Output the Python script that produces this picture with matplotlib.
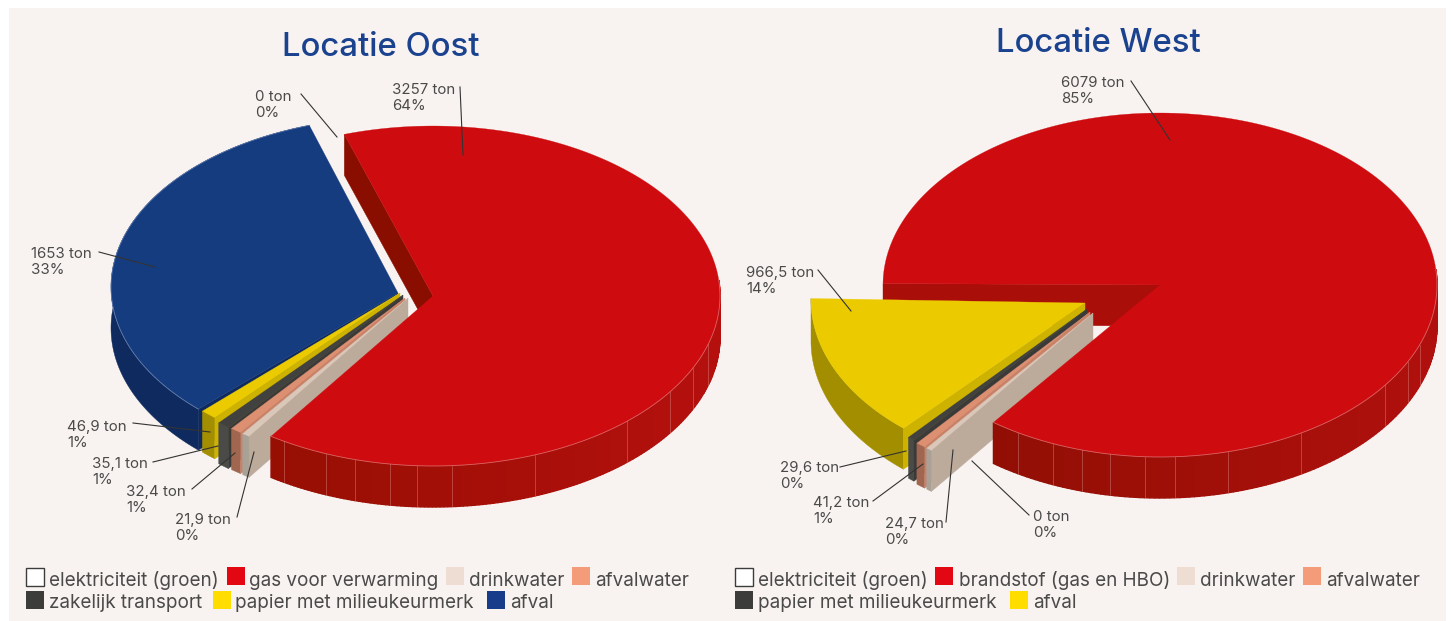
"""
Two exploded 3D-look pie charts of CO2 per location.
Outputs out.png.
"""

import numpy as np
import matplotlib
matplotlib.use("Agg")
import matplotlib.pyplot as plt
from matplotlib.colors import to_rgb
from matplotlib.patches import Rectangle

plt.rcParams["font.family"] = ["Inter", "DejaVu Sans"]

# clockwise order, starting at the big red slice
OOST_VALUES = [3257, 21.9, 32.4, 35.1, 46.9, 1653]
WEST_VALUES = [6079, 24.7, 41.2, 29.6, 966.5]

OOST_LABELS = ["3257 ton\n64%", "21,9 ton\n0%", "32,4 ton\n1%", "35,1 ton\n1%",
               "46,9 ton\n1%", "1653 ton\n33%", "0 ton\n0%"]
WEST_LABELS = ["6079 ton\n85%", "24,7 ton\n0%", "41,2 ton\n1%", "29,6 ton\n0%",
               "966,5 ton\n14%", "0 ton\n0%"]

OOST_LEGEND = ["elektriciteit (groen)", "gas voor verwarming", "drinkwater", "afvalwater",
               "zakelijk transport", "papier met milieukeurmerk", "afval"]
WEST_LEGEND = ["elektriciteit (groen)", "brandstof (gas en HBO)", "drinkwater", "afvalwater",
               "papier met milieukeurmerk", "afval"]

OOST_LEGEND_COLORS = ["#FFFFFF", "#E30613", "#EDDDD3", "#F49B7A", "#3C3C3B", "#FFDD00", "#163C8A"]
WEST_LEGEND_COLORS = ["#FFFFFF", "#E30613", "#EDDDD3", "#F49B7A", "#3C3C3B", "#FFDD00"]

BG = "#F8F3F0"
TEXT = "#4A4A49"
TITLE = "#1A428F"
DEPTH = 41

# face colours: top, outer wall, wall on the start edge
RED = ("#CE0C10", None, "#8A0E00")
BEIGE = ("#D9C7B9", "#A9A196", "#BCAA9B")
SALMON = ("#DC8F71", "#A0664F", "#C98268")
DARK = ("#414140", "#4A4A48", "#3A3A39")
YELLOW = ("#EBCB00", "#A38E00", "#CDB200")
BLUE = ("#163C80", "#0F2A5E", "#0F2A5E")


def arc(cx, cy, a, b, t0, t1, n=80):
    t = np.radians(np.linspace(t0, t1, n))
    return cx + a * np.sin(t), cy - b * np.cos(t)


def draw_slice(ax, apex, center, a, b, t0, t1, colors, rim=None):
    px, py = apex
    x, y = arc(center[0], center[1], a, b, t0, t1, max(int(t1 - t0) * 2, 6))
    ax.fill(np.r_[x, x[::-1]], np.r_[y, y[::-1] + DEPTH], color=colors[1], lw=0.3)
    ax.fill([px, x[0], x[0], px], [py, y[0], y[0] + DEPTH, py + DEPTH], color=colors[2], lw=0.3)
    ax.fill(np.r_[px, x], np.r_[py, y], color=colors[0], lw=0.2)
    if rim:
        ax.plot(x, y, color=rim, lw=0.6, alpha=0.7)


def draw_red(ax, apex, a, b, t0, t1, dark, light, facets):
    # faceted outer wall, shaded left to right
    cx, cy = apex
    x, y = arc(cx, cy, a, b, t0, t1, 300)
    c0, c1 = np.array(to_rgb(dark)), np.array(to_rgb(light))
    t = np.linspace(t0, t1, 300) % 360
    front = np.where((t > 84) & (t < 262))[0]
    for i in front[:-1]:
        f = (x[i] - (cx - a)) / (2 * a)
        col = c0 + (c1 - c0) * f
        ax.fill([x[i], x[i + 1], x[i + 1], x[i]],
                [y[i], y[i + 1], y[i + 1] + DEPTH, y[i] + DEPTH], color=col, lw=1.0)
    for fx in facets:
        i = front[np.argmin(np.abs(x[front] - fx))]
        ax.plot([x[i], x[i]], [y[i], y[i] + DEPTH], color="#E8A0A0", lw=0.5, alpha=0.5)
    ax.fill(np.r_[cx, x], np.r_[cy, y], color=RED[0], lw=0.2)
    ax.plot(x[front], y[front], color="#F0A0A0", lw=0.6, alpha=0.6)


def draw_pie(ax, values, start, apexes, centers, a, b, colors, facets, dark, light, side):
    angles = np.array(values) / np.sum(values) * 360
    edges = start + np.r_[0, np.cumsum(angles)]
    # red start-edge wall first, it lies behind everything else
    cx, cy = apexes[0]
    x0, y0 = arc(cx, cy, a, b, edges[0], edges[0], 1)
    ax.fill([cx, x0[0], x0[0], cx], [cy, y0[0], y0[0] + DEPTH, cy + DEPTH], color=side, lw=0.3)
    for i in range(len(values) - 1, 0, -1):
        draw_slice(ax, apexes[i], centers[i], a, b, edges[i], edges[i + 1], colors[i],
                   rim="#7F95C0" if colors[i] is BLUE else None)
    draw_red(ax, apexes[0], a, b, edges[0], edges[1], dark, light, facets)


def draw_labels(ax, labels, text_pos, leaders):
    for label, (tx, ty), (x0, y0, x1, y1) in zip(labels, text_pos, leaders):
        ax.text(tx, ty, label, fontsize=10.8, color=TEXT, ha="left", va="center", linespacing=1.18)
        ax.plot([x0, x1], [y0, y1], color="#333333", lw=0.8)


def draw_legend(ax, names, colors, boxes, texts):
    for name, col, (bx, by), (tx, ty) in zip(names, colors, boxes, texts):
        is_white = col == "#FFFFFF"
        ax.add_patch(Rectangle((bx, by), 18, 18, facecolor=col,
                               edgecolor="#3C3C3B" if is_white else col, lw=1.0 if is_white else 0))
        ax.text(tx, ty, name, fontsize=13.6, color=TEXT, ha="left", va="center")


fig = plt.figure(figsize=(14.51, 6.21), dpi=100, facecolor="white")
ax = fig.add_axes([0, 0, 1, 1])
ax.set_xlim(0, 1451)
ax.set_ylim(621, 0)
ax.axis("off")
ax.add_patch(Rectangle((9, 8), 1437, 613, facecolor=BG, edgecolor="none"))

ax.text(381, 47.5, "Locatie Oost", fontsize=23.7, color=TITLE, ha="center", va="center", weight="medium")
ax.text(1098, 44, "Locatie West", fontsize=23.7, color=TITLE, ha="center", va="center", weight="medium")

draw_pie(ax, OOST_VALUES, -18.0,
         [(433, 296), (408, 298), (405, 298), (403, 295), (400, 293), (398, 293)],
         [(433, 296), (411, 296), (409, 295), (406, 294), (402, 289), (398, 287)],
         287, 170, [RED, BEIGE, SALMON, DARK, YELLOW, BLUE],
         [284, 325, 357, 388, 417, 450, 536, 627, 670, 694, 708],
         "#8E0E00", "#B5100E", "#8A0E00")
draw_pie(ax, WEST_VALUES, 270.5,
         [(1160, 285), (1093, 313), (1090, 312), (1087, 309), (1085, 303)],
         [(1160, 284), (1098, 313), (1096, 312), (1093, 309), (1088, 300)],
         277, 172, [RED, BEIGE, SALMON, DARK, YELLOW],
         [1016, 1053, 1082, 1111, 1143, 1176, 1229, 1300, 1385, 1408, 1420],
         "#8A0E02", "#B0100D", "#AA0E08")

draw_labels(ax, OOST_LABELS,
            [(392, 98), (175, 528), (126, 500), (92, 472), (67, 435), (31, 262), (255, 105)],
            [(460, 87, 463, 155), (237, 517, 254, 452), (192, 489, 235, 453),
             (153, 462, 218, 446), (133, 423, 210, 432), (99, 252, 155, 267), (301, 94, 337, 137)])
draw_labels(ax, WEST_LABELS,
            [(1061, 91), (885, 532), (813, 511), (780, 476), (746, 281), (1033, 525)],
            [(1131, 81, 1170, 140), (946, 522, 953, 450), (873, 501, 923, 464),
             (840, 467, 906, 451), (818, 270, 851, 311), (1029, 515, 972, 461)])

draw_legend(ax, OOST_LEGEND, OOST_LEGEND_COLORS,
            [(26, 568), (227, 567), (446, 567), (572, 567), (26, 591), (213, 591), (487, 591)],
            [(49, 581), (249, 581), (469, 581), (595, 581), (49, 603), (235, 603), (510, 603)])
draw_legend(ax, WEST_LEGEND, WEST_LEGEND_COLORS,
            [(735, 568), (935, 567), (1177, 567), (1303, 567), (735, 591), (1010, 591)],
            [(758, 581), (959, 581), (1200, 581), (1326, 581), (758, 603), (1033, 603)])

fig.savefig("out.png", dpi=100, facecolor="white")
